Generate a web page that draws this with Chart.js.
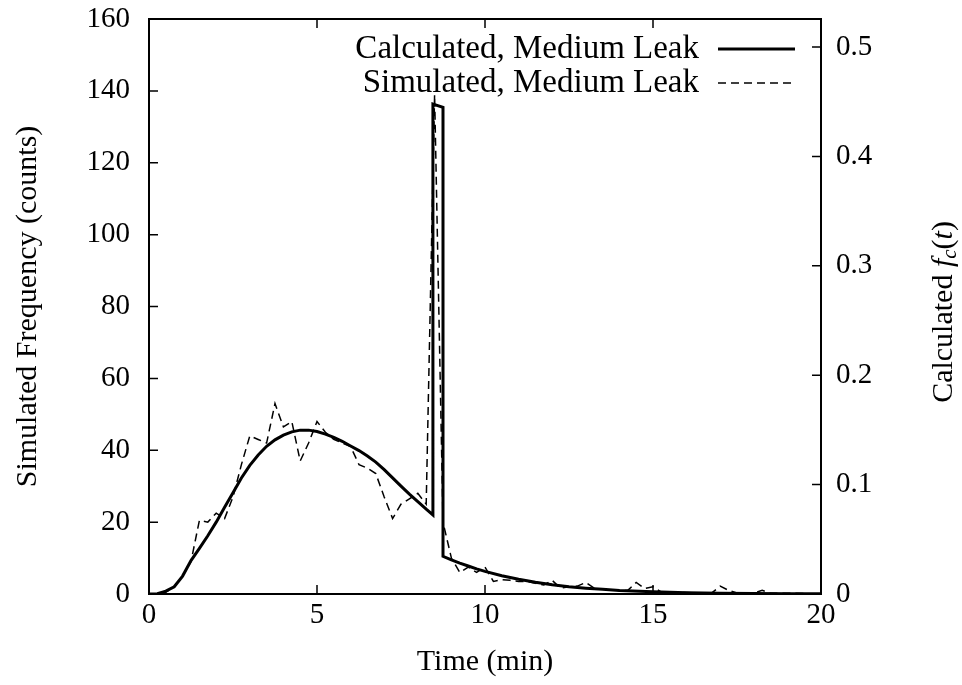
<!DOCTYPE html>
<html>
<head>
<meta charset="utf-8">
<script src="https://cdn.jsdelivr.net/npm/chart.js@4.4.1/dist/chart.umd.min.js"></script>
<style>
html, body { margin: 0; padding: 0; background: #fff; }
#wrap { width: 962px; height: 685px; }
</style>
</head>
<body>
<div id="wrap"><canvas id="chart" width="962" height="685"></canvas></div>
<script>
// Simulated counts, sampled every 0.25 min
const simTimes = [
    0, 0.25, 0.5, 0.75, 1, 1.25, 1.5, 1.75, 2, 2.25, 2.5, 2.75, 3, 3.25, 3.5, 3.75,
    4, 4.25, 4.5, 4.75, 5, 5.25, 5.5, 5.75, 6, 6.25, 6.5, 6.75, 7, 7.25, 7.5, 7.75,
    8, 8.25, 8.5, 8.75, 9, 9.25, 9.5, 9.75, 10, 10.25, 10.5, 10.75, 11, 11.25, 11.5, 11.75,
    12, 12.25, 12.5, 12.75, 13, 13.25, 13.5, 13.75, 14, 14.25, 14.5, 14.75, 15, 15.25, 15.5, 15.75,
    16, 16.25, 16.5, 16.75, 17, 17.25, 17.5, 17.75, 18, 18.25, 18.5, 18.75, 19, 19.25, 19.5, 19.75, 20
];
const simCounts = [
    0, 0, 0.5, 2, 5, 9, 20.5, 20, 22.5, 21, 27, 36, 44, 43, 42, 53,
    46.5, 48, 37, 42, 48, 45, 43, 42, 41, 36, 35, 33.5, 27, 21, 25, 26.5,
    28, 25, 139, 20, 10, 6, 7.5, 6, 7.5, 3.5, 4, 3.8, 3.5, 3.5, 3, 2.5,
    3.8, 1.6, 2, 2.2, 3.2, 1.6, 1.3, 1.2, 1, 1, 3.2, 1.5, 2, 0.5, 0.5, 0.4,
    0.4, 0.3, 0.3, 0.3, 2.2, 1, 0.3, 0.3, 0.3, 1, 0.2, 0.2, 0.2, 0.2, 0.1, 0.1, 0.1
];

// Calculated f_c(t)
const calcTimes = [
    0, 0.25, 0.5, 0.75, 1, 1.25, 1.5, 1.75, 2, 2.25, 2.5, 2.75, 3, 3.25, 3.5, 3.75,
    4, 4.25, 4.5, 4.75, 5, 5.25, 5.5, 5.75, 6, 6.25, 6.5, 6.75, 7, 7.25, 7.5, 7.75,
    8, 8.25, 8.45, 8.45, 8.75, 8.75, 9, 9.25, 9.5, 9.75, 10, 10.5, 11, 11.5, 12, 12.5,
    13, 13.5, 14, 15, 16, 17, 18, 19, 20
];
const calcFc = [
    0, 0.0003, 0.0026, 0.0066, 0.0164, 0.0306, 0.0417, 0.0532, 0.0657, 0.0792, 0.0926, 0.1061, 0.1176, 0.1271, 0.1350, 0.1409,
    0.1452, 0.1482, 0.1498, 0.1498, 0.1485, 0.1462, 0.1432, 0.1396, 0.1353, 0.1311, 0.1262, 0.1206, 0.1137, 0.1061, 0.0986, 0.0913,
    0.0844, 0.0775, 0.0723, 0.4478, 0.4448, 0.0345, 0.0312, 0.0283, 0.0256, 0.0230, 0.0207, 0.0167, 0.0135, 0.0108, 0.0085, 0.0066,
    0.0053, 0.0043, 0.0033, 0.0020, 0.0012, 0.0008, 0.0005, 0.0003, 0.0002
];

const xTicks = [0, 5, 10, 15, 20];
const yTicks = [0, 20, 40, 60, 80, 100, 120, 140, 160];
const y2Ticks = [0, 0.1, 0.2, 0.3, 0.4, 0.5];

const FONT = "'Liberation Serif', 'DejaVu Serif', serif";
const tickFont = { family: FONT, size: 29 };
const titleFont = { family: FONT, size: 30 };

function toPoints(xs, ys) {
    return xs.map((x, i) => ({ x: x, y: ys[i] }));
}

// fixed box sizes, no label overhang padding
function fixBox(w, h) {
    return s => {
        if (w) s.width = w;
        if (h) s.height = h;
        s.paddingTop = 0; s.paddingBottom = 0;
        s.paddingLeft = 0; s.paddingRight = 0;
    };
}

// frame, inward ticks, legend and the right-hand title
const decorPlugin = {
    id: 'decor',
    afterDatasetsDraw(chart) {
        const ctx = chart.ctx;
        const a = chart.chartArea;
        const sx = chart.scales.x, sy = chart.scales.y, sy2 = chart.scales.y2;
        const tl = 9;
        ctx.save();
        ctx.strokeStyle = '#000';
        ctx.lineWidth = 2;
        ctx.strokeRect(a.left, a.top, a.right - a.left, a.bottom - a.top);
        ctx.lineWidth = 1.5;
        ctx.beginPath();
        xTicks.forEach(v => {
            const px = sx.getPixelForValue(v);
            ctx.moveTo(px, a.bottom); ctx.lineTo(px, a.bottom - tl);
            ctx.moveTo(px, a.top); ctx.lineTo(px, a.top + tl);
        });
        yTicks.forEach(v => {
            const py = sy.getPixelForValue(v);
            ctx.moveTo(a.left, py); ctx.lineTo(a.left + tl, py);
        });
        y2Ticks.forEach(v => {
            const py = sy2.getPixelForValue(v);
            ctx.moveTo(a.right, py); ctx.lineTo(a.right - tl, py);
        });
        ctx.stroke();

        // legend, text right aligned with the line sample after it
        ctx.font = '33px ' + FONT;
        ctx.fillStyle = '#000';
        ctx.textAlign = 'right';
        ctx.textBaseline = 'middle';
        const textRight = a.right - 122;
        const sampleL = a.right - 103, sampleR = a.right - 26;
        chart.data.datasets.forEach((ds, i) => {
            const yy = a.top + 30 + i * 34;
            ctx.fillText(ds.label, textRight, yy);
            ctx.beginPath();
            ctx.lineWidth = ds.borderWidth;
            ctx.setLineDash(ds.borderDash || []);
            ctx.moveTo(sampleL, yy);
            ctx.lineTo(sampleR, yy);
            ctx.stroke();
        });
        ctx.setLineDash([]);

        // right axis title: Calculated f_c(t)
        const cx = 944, cy = 312;
        const parts = [
            { t: 'Calculated ', f: '30px ' + FONT, dy: 0 },
            { t: 'f', f: 'italic 30px ' + FONT, dy: 0 },
            { t: 'c', f: 'italic 21px ' + FONT, dy: 6 },
            { t: '(', f: '30px ' + FONT, dy: 0 },
            { t: 't', f: 'italic 30px ' + FONT, dy: 0 },
            { t: ')', f: '30px ' + FONT, dy: 0 }
        ];
        let total = 0;
        parts.forEach(p => { ctx.font = p.f; p.w = ctx.measureText(p.t).width; total += p.w; });
        ctx.translate(cx, cy);
        ctx.rotate(-Math.PI / 2);
        ctx.textAlign = 'left';
        let xx = -total / 2;
        parts.forEach(p => {
            ctx.font = p.f;
            ctx.fillText(p.t, xx, p.dy);
            xx += p.w;
        });
        ctx.restore();
    }
};

new Chart(document.getElementById('chart'), {
    type: 'scatter',
    data: {
        datasets: [{
            label: 'Calculated, Medium Leak',
            data: toPoints(calcTimes, calcFc),
            yAxisID: 'y2',
            showLine: true,
            borderColor: '#000',
            borderWidth: 3,
            pointRadius: 0,
            tension: 0
        }, {
            label: 'Simulated, Medium Leak',
            data: toPoints(simTimes, simCounts),
            yAxisID: 'y',
            showLine: true,
            borderColor: '#000',
            borderWidth: 1.5,
            borderDash: [8, 5],
            pointRadius: 0,
            tension: 0
        }]
    },
    options: {
        responsive: false,
        animation: false,
        maintainAspectRatio: false,
        layout: { padding: { top: 19, left: 0, right: 0, bottom: 0 } },
        plugins: {
            legend: { display: false },
            tooltip: { enabled: false }
        },
        scales: {
            x: {
                type: 'linear',
                min: 0,
                max: 20,
                afterBuildTicks: s => { s.ticks = xTicks.map(v => ({ value: v })); },
                afterFit: fixBox(0, 91),
                grid: { display: false, drawTicks: false },
                border: { display: false },
                ticks: { color: '#000', font: tickFont, padding: 4, maxRotation: 0 },
                title: { display: true, text: 'Time (min)', color: '#000', font: titleFont, padding: { top: 0, bottom: 5 } }
            },
            y: {
                position: 'left',
                min: 0,
                max: 160,
                afterBuildTicks: s => { s.ticks = yTicks.map(v => ({ value: v })); },
                afterFit: fixBox(149, 0),
                grid: { display: false, drawTicks: false },
                border: { display: false },
                ticks: { color: '#000', font: tickFont, padding: 19 },
                title: { display: true, text: 'Simulated Frequency (counts)', color: '#000', font: titleFont, padding: { top: 10, bottom: 0 } }
            },
            y2: {
                position: 'right',
                min: 0,
                max: 160 / 304.4,
                afterBuildTicks: s => { s.ticks = y2Ticks.map(v => ({ value: v })); },
                afterFit: fixBox(141, 0),
                grid: { display: false, drawTicks: false },
                border: { display: false },
                ticks: { color: '#000', font: tickFont, padding: 15, callback: v => String(v) }
            }
        }
    },
    plugins: [decorPlugin]
});
</script>
</body>
</html>
